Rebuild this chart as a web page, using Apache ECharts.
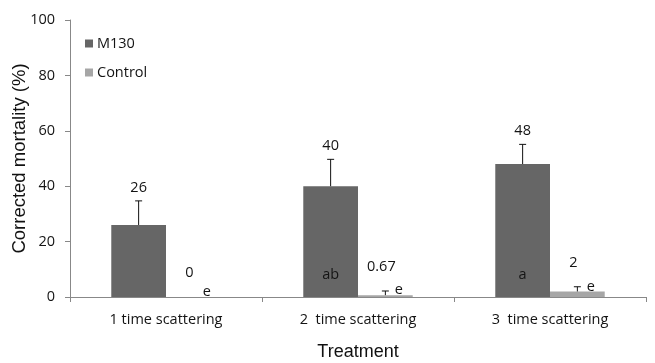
<!DOCTYPE html>
<html>
<head>
<meta charset="utf-8">
<script src="https://cdn.jsdelivr.net/npm/echarts@6/dist/echarts.min.js"></script>
<style>
  html, body { margin: 0; padding: 0; background: #fff; }
  #chart { width: 655px; height: 363px; }
</style>
</head>
<body>
<div id="chart"></div>
<script>
// Treatments on the x axis
const categories = ['1 time scattering', '2  time scattering', '3  time scattering'];

// Corrected mortality (%) and upper error (SE) per treatment
const m130Values = [26, 40, 48];
const m130Errors = [8.7, 9.7, 7.1];
const m130Letters = ['', 'ab', 'a'];

const controlValues = [0, 0.67, 2];
const controlErrors = [0, 1.5, 1.7];
const controlLetters = ['e', 'e', 'e'];

const yTicks = [0, 20, 40, 60, 80, 100];

const LABEL_FONT = '"Open Sans", "DejaVu Sans", sans-serif';
const TITLE_FONT = '"Liberation Sans", Arial, sans-serif';
const CATEGORY_GAP = 0.43;

// Draws the error whisker plus the value and significance-letter text for one group
function makeOverlay(values, errors, letters, side, opts) {
  return function (params, api) {
    const i = params.dataIndex;
    const band = api.size([1, 0])[0];
    const barW = band * (1 - CATEGORY_GAP) / 2;
    const x = api.coord([i, 0])[0] + side * barW / 2;
    const val = values[i];
    const err = errors[i];
    const yBar = api.coord([i, val])[1];
    const yTop = api.coord([i, val + err])[1];
    const children = [];
    if (err > 0) {
      children.push({
        type: 'line',
        shape: { x1: x, y1: yBar, x2: x, y2: yTop },
        style: { stroke: '#111', lineWidth: 1 }
      });
      children.push({
        type: 'line',
        shape: { x1: x - 3.5, y1: yTop, x2: x + 3.5, y2: yTop },
        style: { stroke: '#111', lineWidth: 1 }
      });
    }
    children.push({
      type: 'text',
      style: {
        text: String(val),
        x: x + opts.valueDx,
        y: yTop - opts.valueDy,
        align: 'center',
        verticalAlign: 'middle',
        font: '14.5px ' + LABEL_FONT,
        fill: '#141414'
      }
    });
    if (letters[i]) {
      const ly = opts.letterAt != null ? api.coord([i, opts.letterAt])[1] : yBar - opts.letterDy;
      children.push({
        type: 'text',
        style: {
          text: letters[i],
          x: x + opts.letterDx,
          y: ly,
          align: 'center',
          verticalAlign: 'middle',
          font: '14.5px ' + LABEL_FONT,
          fill: '#141414'
        }
      });
    }
    return { type: 'group', children: children };
  };
}

const chart = echarts.init(document.getElementById('chart'), null, { renderer: 'canvas' });

chart.setOption({
  animation: false,
  backgroundColor: '#fff',
  grid: { left: 70, right: 9, top: 20, bottom: 66, containLabel: false, outerBoundsMode: 'none' },
  legend: {
    orient: 'vertical',
    left: 80,
    top: 31,
    itemWidth: 8,
    itemHeight: 8,
    itemGap: 14,
    icon: 'rect',
    textStyle: { fontFamily: LABEL_FONT, fontSize: 14.5, color: '#141414', padding: [0, 0, 0, -1] },
    data: ['M130', 'Control']
  },
  xAxis: {
    type: 'category',
    data: categories,
    boundaryGap: true,
    name: 'Treatment',
    nameLocation: 'middle',
    nameGap: 55,
    nameMoveOverlap: false,
    nameTextStyle: { fontFamily: TITLE_FONT, fontSize: 18, color: '#111', verticalAlign: 'middle' },
    axisLine: { lineStyle: { color: '#888', width: 1 } },
    axisTick: { show: true, length: 5, lineStyle: { color: '#888' } },
    axisLabel: { fontFamily: LABEL_FONT, fontSize: 14.5, color: '#141414', margin: 15 }
  },
  yAxis: {
    type: 'value',
    min: yTicks[0],
    max: yTicks[yTicks.length - 1],
    interval: 20,
    name: 'Corrected mortality (%)',
    nameLocation: 'middle',
    nameGap: 50,
    nameMoveOverlap: false,
    nameRotate: 90,
    nameTextStyle: { fontFamily: TITLE_FONT, fontSize: 18.5, color: '#111', verticalAlign: 'middle' },
    axisLine: { show: true, lineStyle: { color: '#888', width: 1 } },
    axisTick: { show: true, length: 5, lineStyle: { color: '#888' } },
    splitLine: { show: false },
    axisLabel: { fontFamily: LABEL_FONT, fontSize: 14.5, color: '#141414', margin: 15 }
  },
  series: [
    {
      name: 'M130',
      type: 'bar',
      data: m130Values,
      barGap: '0%',
      barCategoryGap: (CATEGORY_GAP * 100) + '%',
      itemStyle: { color: '#666666' }
    },
    {
      name: 'Control',
      type: 'bar',
      data: controlValues,
      itemStyle: { color: '#a6a6a6' }
    },
    {
      type: 'custom',
      data: m130Values.map((v, i) => [i, v + m130Errors[i]]),
      encode: { x: 0, y: 1 },
      z: 5,
      silent: true,
      renderItem: makeOverlay(m130Values, m130Errors, m130Letters, -1,
        { valueDx: 0, valueDy: 13, letterDx: 0, letterAt: 8 })
    },
    {
      type: 'custom',
      data: controlValues.map((v, i) => [i, v + controlErrors[i]]),
      encode: { x: 0, y: 1 },
      z: 5,
      silent: true,
      renderItem: makeOverlay(controlValues, controlErrors, controlLetters, 1,
        { valueDx: -4, valueDy: 24, letterDx: 13.5, letterDy: 5 })
    }
  ]
});
</script>
</body>
</html>
